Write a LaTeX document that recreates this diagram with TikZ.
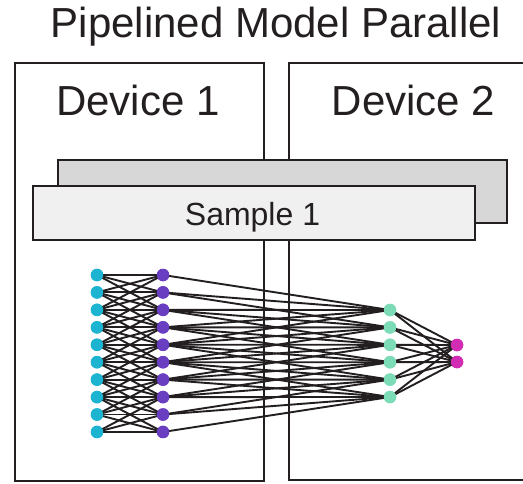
\documentclass[tikz,border=0pt]{standalone}
\usepackage{fontspec}
\setmainfont{Liberation Sans}
\definecolor{linecol}{HTML}{231F20}
\definecolor{cyanc}{HTML}{1CB4D0}
\definecolor{purplec}{HTML}{6A3EC0}
\definecolor{greenc}{HTML}{7DDCB8}
\definecolor{magc}{HTML}{D22CB4}
\definecolor{backgray}{HTML}{D7D7D7}
\definecolor{frontgray}{HTML}{F0F0F0}
\tikzset{
  devbox/.style={draw=linecol, line width=2.4pt},
  samplebox/.style={draw=linecol, line width=2pt},
  neuron/.style={circle, inner sep=0pt, minimum size=12.5pt},
  conn/.style={draw=linecol, line width=1.9pt},
  bigtext/.style={font=\fontsize{42}{50}\selectfont, text=linecol, anchor=base, inner sep=0pt},
  smalltext/.style={font=\fontsize{32}{38}\selectfont, text=linecol, anchor=base, inner sep=0pt}
}
\begin{document}
\begin{tikzpicture}[x=1pt, y=-1pt]
\clip (0,0) rectangle (523,483);
\fill[white] (0,0) rectangle (523,483);
% devices
\draw[devbox] (15,63) rectangle (264,481);
\draw[devbox] (289,63) rectangle (540,480);
\node[bigtext] (title) at (276,37) {Pipelined Model Parallel};
\node[bigtext] (dev1) at (138,115) {Device 1};
\node[bigtext] (dev2) at (413.5,115) {Device 2};
% samples
\draw[samplebox, fill=backgray] (58,160) rectangle (507,223);
\draw[samplebox, fill=frontgray] (33,186) rectangle (475,240);
\node[smalltext] (s1) at (252.5,225) {Sample 1};
% neurons
\foreach \i in {1,...,10} {
  \node[neuron, fill=cyanc] (c\i) at (97,{275+(\i-1)*17.44}) {};
  \node[neuron, fill=purplec] (p\i) at (163,{275+(\i-1)*17.44}) {};
}
\foreach \j in {1,...,6} {
  \node[neuron, fill=greenc] (g\j) at (390,{310+(\j-1)*17.4}) {};
}
\node[neuron, fill=magc] (m1) at (457,345) {};
\node[neuron, fill=magc] (m2) at (457,362) {};
% connections
\foreach \i in {1,...,10} {
  \foreach \k in {-2,...,2} {
    \pgfmathtruncatemacro{\t}{\i+\k}
    \ifnum\t>0 \ifnum\t<11
      \draw[conn] (c\i.center) -- (p\t.center);
    \fi\fi
  }
  \foreach \k in {-2,...,2} {
    \pgfmathtruncatemacro{\t}{\i-2+\k}
    \ifnum\t>0 \ifnum\t<7
      \draw[conn] (p\i.center) -- (g\t.center);
    \fi\fi
  }
}
\foreach \j in {1,...,6} {
  \draw[conn] (g\j.center) -- (m1.center);
  \draw[conn] (g\j.center) -- (m2.center);
}
% redraw neurons on top
\foreach \i in {1,...,10} {
  \fill[cyanc] (c\i) circle (6.25pt);
  \fill[purplec] (p\i) circle (6.25pt);
}
\foreach \j in {1,...,6} {
  \fill[greenc] (g\j) circle (6.25pt);
}
\fill[magc] (m1) circle (6.25pt);
\fill[magc] (m2) circle (6.25pt);
\end{tikzpicture}
\end{document}
